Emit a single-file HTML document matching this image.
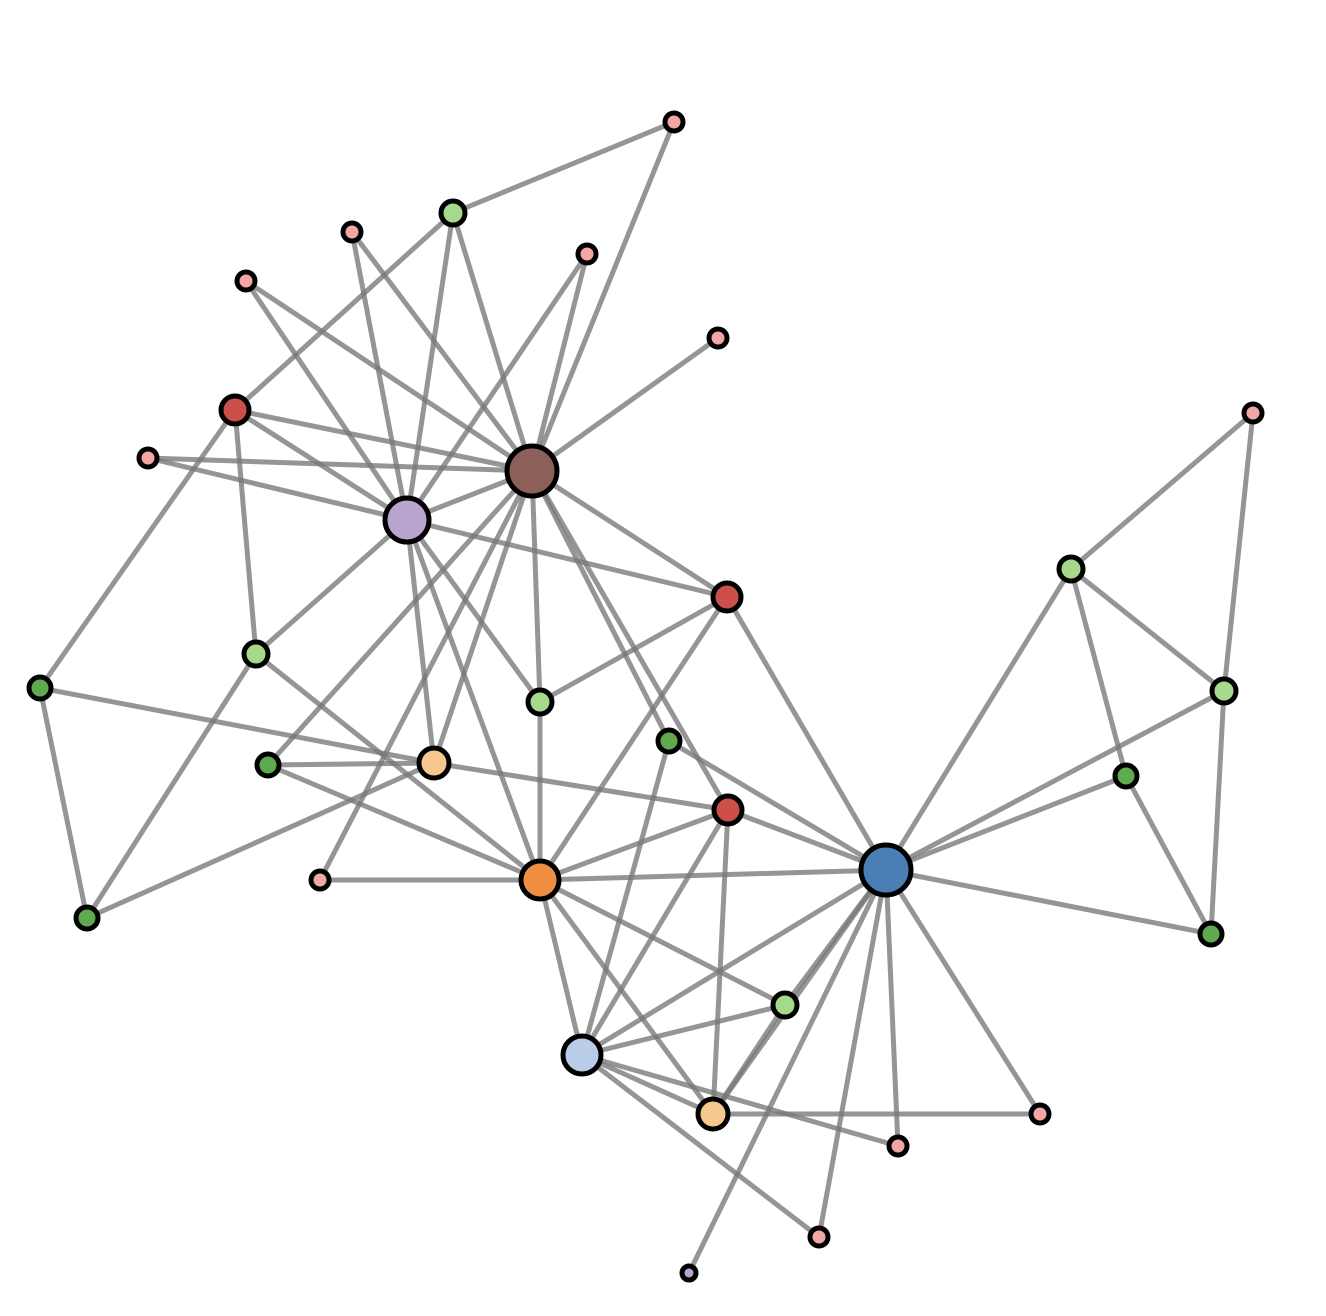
<!DOCTYPE html>
<html><head><meta charset="utf-8"><style>html,body{margin:0;padding:0;background:#fff}svg{display:block}</style></head>
<body>
<svg width="1326" height="1316" viewBox="0 0 1326 1316" xmlns="http://www.w3.org/2000/svg">
<g stroke="#777" stroke-opacity="0.78" stroke-width="5" stroke-linecap="round">
<line x1="674" y1="122" x2="453" y2="213"/>
<line x1="674" y1="122" x2="532" y2="471"/>
<line x1="453" y1="213" x2="235" y2="410"/>
<line x1="453" y1="213" x2="407" y2="520"/>
<line x1="453" y1="213" x2="532" y2="471"/>
<line x1="352" y1="232" x2="407" y2="520"/>
<line x1="352" y1="232" x2="532" y2="471"/>
<line x1="587" y1="254" x2="532" y2="471"/>
<line x1="587" y1="254" x2="407" y2="520"/>
<line x1="246" y1="281" x2="407" y2="520"/>
<line x1="246" y1="281" x2="532" y2="471"/>
<line x1="718" y1="338" x2="532" y2="471"/>
<line x1="235" y1="410" x2="532" y2="471"/>
<line x1="235" y1="410" x2="407" y2="520"/>
<line x1="235" y1="410" x2="256" y2="654"/>
<line x1="235" y1="410" x2="40" y2="688"/>
<line x1="148" y1="458" x2="532" y2="471"/>
<line x1="148" y1="458" x2="407" y2="520"/>
<line x1="532" y1="471" x2="407" y2="520"/>
<line x1="532" y1="471" x2="727" y2="597"/>
<line x1="407" y1="520" x2="727" y2="597"/>
<line x1="532" y1="471" x2="540" y2="702"/>
<line x1="407" y1="520" x2="540" y2="702"/>
<line x1="532" y1="471" x2="268" y2="765"/>
<line x1="532" y1="471" x2="434" y2="763"/>
<line x1="532" y1="471" x2="320" y2="880"/>
<line x1="532" y1="471" x2="728" y2="810"/>
<line x1="532" y1="471" x2="669" y2="741"/>
<line x1="407" y1="520" x2="256" y2="654"/>
<line x1="407" y1="520" x2="434" y2="763"/>
<line x1="407" y1="520" x2="540" y2="880"/>
<line x1="727" y1="597" x2="540" y2="702"/>
<line x1="727" y1="597" x2="540" y2="880"/>
<line x1="727" y1="597" x2="886" y2="870"/>
<line x1="256" y1="654" x2="540" y2="880"/>
<line x1="256" y1="654" x2="87" y2="918"/>
<line x1="40" y1="688" x2="434" y2="763"/>
<line x1="40" y1="688" x2="87" y2="918"/>
<line x1="268" y1="765" x2="434" y2="763"/>
<line x1="268" y1="765" x2="540" y2="880"/>
<line x1="434" y1="763" x2="87" y2="918"/>
<line x1="434" y1="763" x2="728" y2="810"/>
<line x1="669" y1="741" x2="886" y2="870"/>
<line x1="669" y1="741" x2="582" y2="1055"/>
<line x1="728" y1="810" x2="540" y2="880"/>
<line x1="728" y1="810" x2="582" y2="1055"/>
<line x1="728" y1="810" x2="713" y2="1114"/>
<line x1="728" y1="810" x2="886" y2="870"/>
<line x1="320" y1="880" x2="540" y2="880"/>
<line x1="540" y1="880" x2="886" y2="870"/>
<line x1="540" y1="880" x2="582" y2="1055"/>
<line x1="540" y1="880" x2="785" y2="1005"/>
<line x1="540" y1="880" x2="713" y2="1114"/>
<line x1="540" y1="880" x2="540" y2="702"/>
<line x1="886" y1="870" x2="1071" y2="569"/>
<line x1="886" y1="870" x2="1224" y2="691"/>
<line x1="886" y1="870" x2="1126" y2="776"/>
<line x1="886" y1="870" x2="1211" y2="934"/>
<line x1="886" y1="870" x2="785" y2="1005"/>
<line x1="886" y1="870" x2="582" y2="1055"/>
<line x1="886" y1="870" x2="713" y2="1114"/>
<line x1="886" y1="870" x2="1040" y2="1114"/>
<line x1="886" y1="870" x2="898" y2="1146"/>
<line x1="886" y1="870" x2="819" y2="1237"/>
<line x1="886" y1="870" x2="689" y2="1273"/>
<line x1="1071" y1="569" x2="1253" y2="413"/>
<line x1="1071" y1="569" x2="1224" y2="691"/>
<line x1="1071" y1="569" x2="1126" y2="776"/>
<line x1="1253" y1="413" x2="1224" y2="691"/>
<line x1="1224" y1="691" x2="1211" y2="934"/>
<line x1="1126" y1="776" x2="1211" y2="934"/>
<line x1="785" y1="1005" x2="582" y2="1055"/>
<line x1="785" y1="1005" x2="713" y2="1114"/>
<line x1="582" y1="1055" x2="713" y2="1114"/>
<line x1="582" y1="1055" x2="898" y2="1146"/>
<line x1="582" y1="1055" x2="819" y2="1237"/>
<line x1="713" y1="1114" x2="1040" y2="1114"/>
</g>
<g stroke="#000" stroke-width="5">
<circle cx="674" cy="122" r="9" fill="#f4a6a6"/>
<circle cx="453" cy="213" r="12" fill="#a6d98c"/>
<circle cx="352" cy="232" r="9" fill="#f4a6a6"/>
<circle cx="587" cy="254" r="9" fill="#f4a6a6"/>
<circle cx="246" cy="281" r="9" fill="#f4a6a6"/>
<circle cx="718" cy="338" r="9" fill="#f4a6a6"/>
<circle cx="235" cy="410" r="14" fill="#cc4f4a"/>
<circle cx="148" cy="458" r="9" fill="#f4a6a6"/>
<circle cx="532" cy="471" r="25" fill="#8c6058"/>
<circle cx="407" cy="520" r="22" fill="#b9a4cf"/>
<circle cx="1253" cy="413" r="9" fill="#f4a6a6"/>
<circle cx="1071" cy="569" r="12" fill="#a6d98c"/>
<circle cx="727" cy="597" r="14" fill="#cc4f4a"/>
<circle cx="256" cy="654" r="12" fill="#a6d98c"/>
<circle cx="40" cy="688" r="11" fill="#5faa4e"/>
<circle cx="540" cy="702" r="12" fill="#a6d98c"/>
<circle cx="1224" cy="691" r="12" fill="#a6d98c"/>
<circle cx="669" cy="741" r="11" fill="#5faa4e"/>
<circle cx="268" cy="765" r="11" fill="#5faa4e"/>
<circle cx="434" cy="763" r="15" fill="#f6c88e"/>
<circle cx="1126" cy="776" r="11" fill="#5faa4e"/>
<circle cx="728" cy="810" r="14" fill="#cc4f4a"/>
<circle cx="320" cy="880" r="9" fill="#f4a6a6"/>
<circle cx="540" cy="880" r="19" fill="#ee8f43"/>
<circle cx="886" cy="870" r="25" fill="#4a7fb5"/>
<circle cx="87" cy="918" r="11" fill="#5faa4e"/>
<circle cx="1211" cy="934" r="11" fill="#5faa4e"/>
<circle cx="785" cy="1005" r="12" fill="#a6d98c"/>
<circle cx="582" cy="1055" r="19" fill="#b9cde8"/>
<circle cx="713" cy="1114" r="15" fill="#f6c88e"/>
<circle cx="1040" cy="1114" r="9" fill="#f4a6a6"/>
<circle cx="898" cy="1146" r="9" fill="#f4a6a6"/>
<circle cx="819" cy="1237" r="9" fill="#f4a6a6"/>
<circle cx="689" cy="1273" r="7" fill="#b9a4cf"/>
</g>
</svg>
</body></html>
